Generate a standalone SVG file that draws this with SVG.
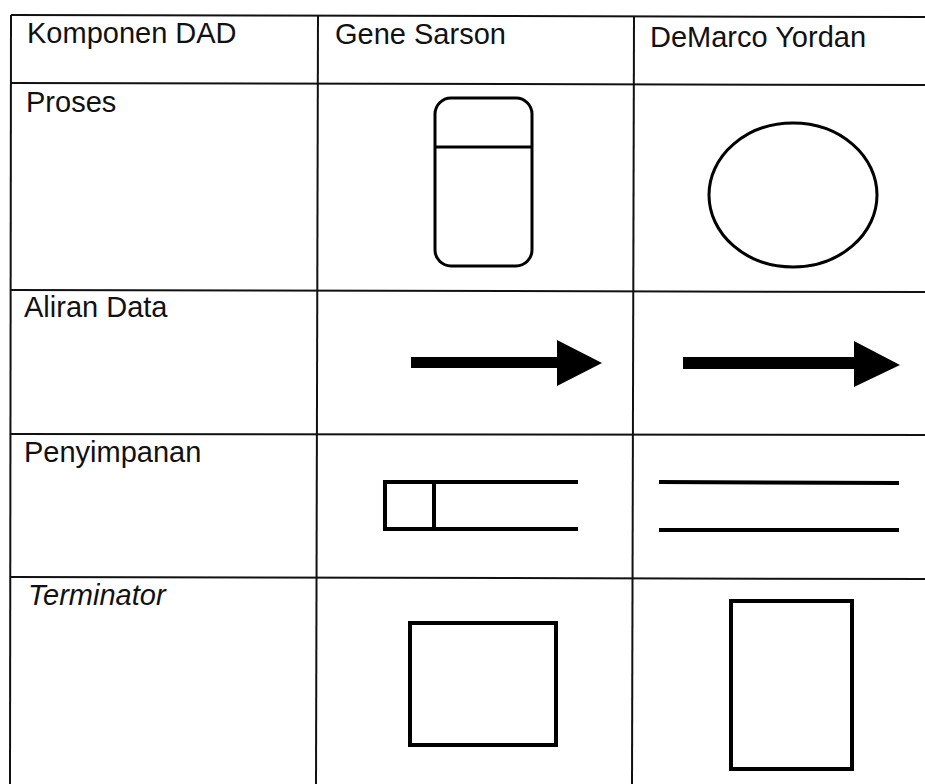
<svg xmlns="http://www.w3.org/2000/svg" width="925" height="784" viewBox="0 0 925 784">
<style>
.grid{stroke:#111;stroke-width:2;fill:none}
.t{font-family:"Liberation Sans",Arial,sans-serif;font-size:29px;fill:#111}
.it{font-style:italic}
.sym{stroke:#000;fill:none;stroke-width:3}
.thick{stroke:#000;fill:none;stroke-width:4}
</style>
<rect width="925" height="784" fill="#fff"/>
<g id="table">
<line class="grid" x1="11" y1="15" x2="925" y2="17"/>
<line class="grid" x1="11" y1="83" x2="925" y2="85"/>
<line class="grid" x1="11" y1="290" x2="925" y2="292"/>
<line class="grid" x1="11" y1="434" x2="925" y2="435"/>
<line class="grid" x1="11" y1="577" x2="925" y2="579"/>
<line class="grid" x1="11" y1="15" x2="10" y2="784"/>
<line class="grid" x1="318" y1="15" x2="316" y2="784"/>
<line class="grid" x1="634" y1="16" x2="632" y2="784"/>
</g>
<g id="header">
<text class="t" x="27" y="43">Komponen DAD</text>
<text class="t" x="335" y="44">Gene Sarson</text>
<text class="t" x="650" y="47">DeMarco Yordan</text>
</g>
<g id="row-proses">
<text class="t" x="26" y="112">Proses</text>
<g id="gs-proses">
<rect class="sym" x="435" y="98" width="97" height="168" rx="16"/>
<line class="sym" x1="435" y1="147" x2="532" y2="147"/>
</g>
<g id="dy-proses">
<ellipse class="sym" cx="793" cy="195" rx="84" ry="72"/>
</g>
</g>
<g id="row-aliran">
<text class="t" x="24" y="317">Aliran Data</text>
<g id="gs-aliran">
<polygon fill="#000" points="411,357 557,357 557,340 602,363 557,386 557,368 411,368"/>
</g>
<g id="dy-aliran">
<polygon fill="#000" points="683,357 854,357 854,341 900,365 854,387 854,369 683,369"/>
</g>
</g>
<g id="row-penyimpanan">
<text class="t" x="24" y="462">Penyimpanan</text>
<g id="gs-penyimpanan">
<path class="thick" d="M578,482 H385 V529 H578 M434,482 V529"/>
</g>
<g id="dy-penyimpanan">
<line class="thick" x1="659" y1="482" x2="899" y2="483"/>
<line class="thick" x1="659" y1="530" x2="899" y2="530"/>
</g>
</g>
<g id="row-terminator">
<text class="t it" x="28" y="605">Terminator</text>
<g id="gs-terminator">
<rect class="thick" x="410" y="623" width="146" height="122"/>
</g>
<g id="dy-terminator">
<rect class="thick" x="731" y="601" width="121" height="168"/>
</g>
</g>
</svg>
